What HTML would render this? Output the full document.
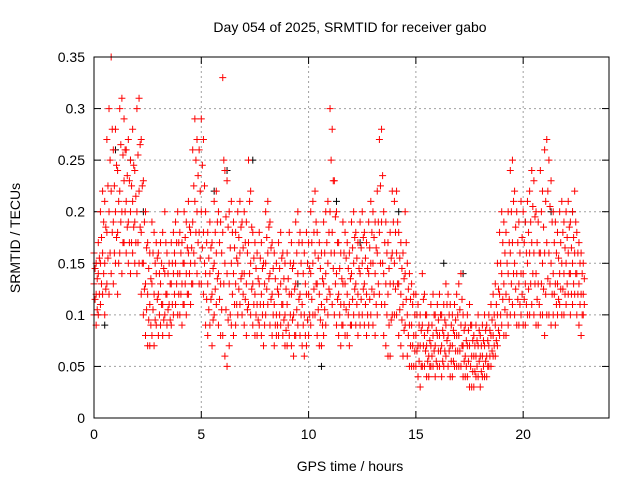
<!DOCTYPE html>
<html><head><meta charset="utf-8"><style>
html,body{margin:0;padding:0;background:#fff}
svg{display:block;font-family:"Liberation Sans",sans-serif}
</style></head><body>
<svg id="chart" width="640" height="480" viewBox="0 0 640 480" xmlns="http://www.w3.org/2000/svg">
<text x="350" y="32" text-anchor="middle" font-size="14">Day 054 of 2025, SRMTID for receiver gabo</text>
<text transform="translate(20,238) rotate(-90)" text-anchor="middle" font-size="14">SRMTID / TECUs</text>
<text x="350" y="471" text-anchor="middle" font-size="14">GPS time / hours</text>
<g id="grid"></g>
<g id="ticks"></g>
<g id="pts"></g>
<rect x="94" y="57" width="515" height="361" fill="none" stroke="#000" stroke-width="1"/>
</svg>
<script>
const xTicks=[0,5,10,15,20];
const yTicks=[0,0.05,0.1,0.15,0.2,0.25,0.3,0.35];
const yTickLabels=["0","0.05","0.1","0.15","0.2","0.25","0.3","0.35"];
const times=[0,0.1,0.2,0.3,0.4,0.5,0.6,0.7,0.8,0.9,1,1.1,1.2,1.3,1.4,1.5,1.6,1.7,1.8,1.9,2,2.1,2.2,2.3,2.4,2.5,2.6,2.7,2.8,2.9,3,3.1,3.2,3.3,3.4,3.5,3.6,3.7,3.8,3.9,4,4.1,4.2,4.3,4.4,4.5,4.6,4.7,4.8,4.9,5,5.1,5.2,5.3,5.4,5.5,5.6,5.7,5.8,5.9,6,6.1,6.2,6.3,6.4,6.5,6.6,6.7,6.8,6.9,7,7.1,7.2,7.3,7.4,7.5,7.6,7.7,7.8,7.9,8,8.1,8.2,8.3,8.4,8.5,8.6,8.7,8.8,8.9,9,9.1,9.2,9.3,9.4,9.5,9.6,9.7,9.8,9.9,10,10.1,10.2,10.3,10.4,10.5,10.6,10.7,10.8,10.9,11,11.1,11.2,11.3,11.4,11.5,11.6,11.7,11.8,11.9,12,12.1,12.2,12.3,12.4,12.5,12.6,12.7,12.8,12.9,13,13.1,13.2,13.3,13.4,13.5,13.6,13.7,13.8,13.9,14,14.1,14.2,14.3,14.4,14.5,14.6,14.7,14.8,14.9,15,15.1,15.2,15.3,15.4,15.5,15.6,15.7,15.8,15.9,16,16.1,16.2,16.3,16.4,16.5,16.6,16.7,16.8,16.9,17,17.1,17.2,17.3,17.4,17.5,17.6,17.7,17.8,17.9,18,18.1,18.2,18.3,18.4,18.5,18.6,18.7,18.8,18.9,19,19.1,19.2,19.3,19.4,19.5,19.6,19.7,19.8,19.9,20,20.1,20.2,20.3,20.4,20.5,20.6,20.7,20.8,20.9,21,21.1,21.2,21.3,21.4,21.5,21.6,21.7,21.8,21.9,22,22.1,22.2,22.3,22.4,22.5,22.6,22.7,22.8];
const seriesHigh=[.16,.15,.17,.2,.22,.21,.27,.3,.35,.26,.28,.24,.3,.31,.29,.26,.27,.25,.28,.24,.3,.31,.27,.23,.2,.17,.16,.19,.18,.17,.16,.17,.18,.2,.16,.15,.17,.18,.19,.2,.18,.17,.2,.19,.21,.18,.26,.29,.27,.26,.29,.27,.2,.18,.19,.17,.21,.22,.2,.19,.33,.24,.23,.2,.21,.19,.18,.2,.21,.19,.2,.19,.25,.22,.18,.17,.16,.18,.17,.15,.2,.21,.19,.17,.16,.15,.17,.18,.16,.15,.16,.18,.17,.15,.19,.2,.18,.17,.16,.18,.17,.2,.21,.22,.18,.17,.16,.19,.2,.21,.3,.28,.23,.2,.17,.16,.19,.18,.17,.16,.19,.2,.18,.17,.19,.2,.18,.17,.19,.21,.2,.19,.22,.27,.28,.2,.19,.17,.18,.22,.21,.22,.18,.17,.16,.2,.15,.14,.13,.12,.12,.11,.1,.14,.12,.1,.09,.11,.12,.1,.11,.12,.1,.11,.13,.12,.11,.1,.11,.12,.13,.14,.1,.09,.1,.11,.09,.08,.09,.1,.08,.09,.1,.09,.1,.11,.12,.13,.15,.18,.2,.19,.18,.2,.24,.25,.22,.2,.19,.21,.2,.19,.21,.22,.24,.23,.2,.19,.24,.22,.26,.27,.25,.23,.2,.19,.18,.2,.21,.19,.2,.21,.19,.2,.22,.18,.17,.16,.15];
const seriesUpperMid=[.145,.135,.155,.175,.19,.185,.225,.25,.28,.225,.245,.21,.265,.255,.26,.235,.23,.225,.245,.215,.255,.265,.225,.19,.165,.145,.135,.16,.15,.155,.14,.15,.145,.17,.14,.13,.15,.16,.17,.17,.16,.15,.175,.165,.185,.165,.225,.25,.235,.22,.245,.225,.17,.155,.165,.145,.18,.19,.17,.16,.25,.195,.185,.165,.18,.165,.155,.175,.185,.165,.17,.16,.21,.185,.155,.145,.135,.155,.145,.13,.175,.185,.165,.145,.135,.125,.145,.155,.135,.125,.135,.15,.145,.125,.16,.17,.15,.14,.13,.15,.145,.17,.18,.19,.155,.145,.135,.16,.17,.18,.25,.23,.195,.17,.145,.135,.16,.155,.145,.135,.165,.175,.155,.145,.165,.175,.155,.145,.165,.18,.175,.165,.19,.225,.235,.17,.16,.145,.155,.19,.18,.19,.155,.145,.135,.17,.125,.115,.11,.1,.1,.09,.085,.115,.1,.085,.075,.09,.1,.085,.095,.1,.085,.095,.11,.1,.09,.085,.095,.1,.105,.115,.085,.075,.085,.09,.075,.07,.075,.085,.07,.075,.085,.075,.085,.095,.1,.11,.125,.15,.17,.16,.15,.17,.2,.21,.185,.17,.16,.175,.17,.16,.18,.19,.205,.195,.17,.16,.2,.185,.21,.22,.205,.19,.17,.16,.155,.17,.18,.165,.175,.185,.165,.175,.19,.16,.15,.14,.135];
const seriesMid=[.13,.12,.14,.15,.16,.15,.18,.2,.22,.19,.2,.18,.22,.2,.23,.21,.19,.2,.21,.19,.2,.22,.18,.15,.13,.12,.11,.13,.12,.14,.12,.13,.11,.14,.12,.11,.13,.14,.15,.14,.14,.13,.15,.14,.16,.15,.19,.21,.2,.18,.2,.18,.14,.13,.14,.12,.15,.16,.14,.13,.18,.15,.14,.13,.15,.14,.13,.15,.16,.14,.14,.13,.17,.15,.13,.12,.11,.13,.12,.11,.15,.16,.14,.12,.11,.1,.12,.13,.11,.1,.11,.12,.12,.1,.13,.14,.12,.11,.1,.12,.12,.14,.15,.16,.13,.12,.11,.13,.14,.15,.2,.18,.16,.14,.12,.11,.13,.13,.12,.11,.14,.15,.13,.12,.14,.15,.13,.12,.14,.15,.15,.14,.16,.18,.19,.14,.13,.12,.13,.16,.15,.16,.13,.12,.11,.14,.1,.09,.09,.08,.08,.07,.07,.09,.08,.07,.06,.07,.08,.07,.08,.08,.07,.08,.09,.08,.07,.07,.08,.08,.08,.09,.07,.06,.07,.07,.06,.06,.06,.07,.06,.06,.07,.06,.07,.08,.08,.09,.1,.12,.14,.13,.12,.14,.16,.17,.15,.14,.13,.14,.14,.13,.15,.16,.17,.16,.14,.13,.16,.15,.16,.17,.16,.15,.14,.13,.13,.14,.15,.14,.15,.16,.14,.15,.16,.14,.13,.12,.12];
const seriesLowerMid=[.115,.105,.12,.13,.14,.125,.155,.16,.18,.16,.175,.15,.19,.17,.2,.185,.17,.17,.185,.17,.17,.185,.15,.125,.105,.095,.09,.105,.095,.115,.1,.11,.095,.12,.105,.095,.11,.12,.13,.12,.12,.11,.13,.12,.14,.13,.16,.18,.17,.155,.165,.15,.115,.105,.115,.095,.125,.135,.115,.105,.13,.105,.095,.1,.12,.11,.11,.125,.135,.12,.115,.105,.14,.125,.11,.1,.095,.11,.1,.09,.125,.135,.115,.1,.09,.09,.1,.11,.095,.085,.09,.1,.095,.08,.105,.115,.1,.09,.08,.095,.1,.115,.125,.13,.105,.095,.09,.105,.115,.125,.16,.145,.13,.115,.1,.09,.11,.105,.1,.09,.115,.125,.11,.1,.115,.125,.11,.1,.115,.125,.12,.11,.13,.15,.15,.11,.1,.09,.095,.13,.125,.13,.105,.095,.085,.115,.08,.07,.07,.065,.065,.055,.05,.07,.065,.055,.05,.06,.065,.055,.065,.065,.055,.065,.075,.065,.055,.055,.065,.065,.065,.07,.055,.05,.055,.05,.045,.045,.05,.055,.045,.05,.055,.05,.06,.065,.07,.075,.085,.1,.115,.105,.1,.115,.13,.14,.125,.115,.11,.12,.115,.11,.125,.13,.14,.13,.115,.11,.13,.125,.12,.135,.13,.12,.12,.11,.115,.125,.125,.12,.13,.14,.12,.13,.14,.12,.11,.1,.11];
const seriesLow=[.1,.09,.1,.11,.12,.1,.13,.12,.14,.13,.15,.12,.16,.14,.17,.16,.15,.14,.16,.15,.14,.15,.12,.1,.08,.07,.07,.08,.07,.09,.08,.09,.08,.1,.09,.08,.09,.1,.11,.1,.1,.09,.11,.1,.12,.11,.13,.15,.14,.13,.13,.12,.09,.08,.09,.07,.1,.11,.09,.08,.08,.06,.05,.07,.09,.08,.09,.1,.11,.1,.09,.08,.11,.1,.09,.08,.08,.09,.08,.07,.1,.11,.09,.08,.07,.08,.08,.09,.08,.07,.07,.08,.07,.06,.08,.09,.08,.07,.06,.07,.08,.09,.1,.1,.08,.07,.07,.08,.09,.1,.12,.11,.1,.09,.08,.07,.09,.08,.08,.07,.09,.1,.09,.08,.09,.1,.09,.08,.09,.1,.09,.08,.1,.12,.11,.08,.07,.06,.06,.1,.1,.1,.08,.07,.06,.09,.06,.05,.05,.05,.05,.04,.03,.05,.05,.04,.04,.05,.05,.04,.05,.05,.04,.05,.06,.05,.04,.04,.05,.05,.05,.05,.04,.04,.04,.03,.03,.03,.04,.04,.03,.04,.04,.04,.05,.05,.06,.06,.07,.08,.09,.08,.08,.09,.1,.11,.1,.09,.09,.1,.09,.09,.1,.1,.11,.1,.09,.09,.1,.1,.08,.1,.1,.09,.1,.09,.1,.11,.1,.1,.11,.12,.1,.11,.12,.1,.09,.08,.1];
const blackTimes=[0.5,1.0,1.7,2.3,5.6,6.2,7.4,9.5,10.6,11.3,12.4,14.2,16.3,17.2,20.1,21.3,22.3];
const blackValues=[.09,.26,.25,.2,.22,.24,.25,.13,.05,.21,.17,.2,.15,.14,.19,.2,.2];
const halfStep=0.05;

const X0=94,X1=609,Y0=418,Y1=57;
const xs=t=>X0+t/24*(X1-X0);
const ys=v=>Y0-v/0.35*(Y0-Y1);
const NS="http://www.w3.org/2000/svg";
const grid=document.getElementById('grid'),ticks=document.getElementById('ticks'),pts=document.getElementById('pts');
function mk(tag,attrs,parent){const e=document.createElementNS(NS,tag);for(const k in attrs)e.setAttribute(k,attrs[k]);parent.appendChild(e);return e;}
xTicks.forEach(t=>{
  const x=xs(t);
  if(t>0){const g=mk('line',{x1:x,x2:x,y1:Y0,y2:Y1,stroke:'#a0a0a0','stroke-dasharray':'2,3'},grid);
  
  }
  mk('line',{x1:x,x2:x,y1:Y0,y2:Y0-7,stroke:'#000'},ticks);
  mk('line',{x1:x,x2:x,y1:Y1,y2:Y1+7,stroke:'#000'},ticks);
  const l=mk('text',{x:x,y:Y0+21,'text-anchor':'middle','font-size':14},ticks);
  l.textContent=String(t);
  
  
});
yTicks.forEach((v,i)=>{
  const y=ys(v);
  if(v>0&&v<0.35){const g=mk('line',{x1:X0,x2:X1,y1:y,y2:y,stroke:'#a0a0a0','stroke-dasharray':'2,3'},grid);
  
  }
  mk('line',{x1:X0,x2:X0+7,y1:y,y2:y,stroke:'#000'},ticks);
  mk('line',{x1:X1,x2:X1-7,y1:y,y2:y,stroke:'#000'},ticks);
  const l=mk('text',{x:X0-9,y:y+5,'text-anchor':'end','font-size':14},ticks);
  l.textContent=yTickLabels[i];
  
  
});
function plus(t,v,col){
  const x=xs(t),y=ys(v);
  const p=mk('path',{d:`M${x-3.5},${y}h7M${x},${y-3.5}v7`,stroke:col,'stroke-width':1,fill:'none'},pts);
  
  
}
blackTimes.forEach((t,i)=>plus(t,blackValues[i],'#000'));
[seriesHigh,seriesMid,seriesLow].forEach(s=>times.forEach((t,i)=>{if(s[i]!==undefined)plus(t,s[i],'#f00');}));
[seriesUpperMid,seriesLowerMid].forEach(s=>times.forEach((t,i)=>{if(s[i]!==undefined)plus(t+halfStep,s[i],'#f00');}));
</script>
</body></html>
